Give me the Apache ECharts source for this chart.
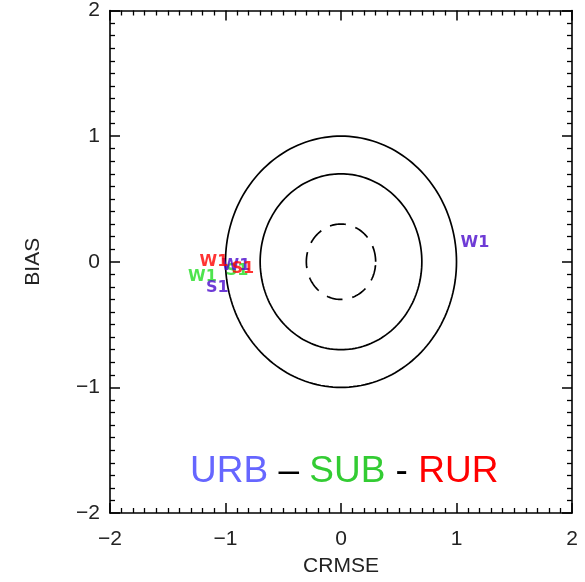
<!DOCTYPE html>
<html><head><meta charset="utf-8">
<script src="https://cdn.jsdelivr.net/npm/echarts@6/dist/echarts.min.js"></script>
<style>html,body{margin:0;padding:0;background:#fff}#c{width:585px;height:582px}</style>
</head><body><div id="c"></div>
<script>
// ---- data ----
const axisMin = -2, axisMax = 2, axisInterval = 1;
const radii = [1.0, 0.7, 0.3];
const urbNames = ['W1', 'W1', 'S1'];
const urbX = [1.16, -0.91, -1.07];
const urbY = [0.15, -0.03, -0.21];
const subNames = ['W1', 'S1'];
const subX = [-1.20, -0.90];
const subY = [-0.12, -0.07];
const rurNames = ['W1', 'S1'];
const rurX = [-1.10, -0.85];
const rurY = [0.00, -0.06];
const legendParts = ['URB', ' – ', 'SUB', ' - ', 'RUR'];

// ---- build ----
const chart = echarts.init(document.getElementById('c'), null, {renderer: 'canvas'});
const fmt = v => (v < 0 ? '\u2212' + Math.abs(v) : String(v));
const labelFont = {fontFamily: 'Liberation Sans', fontSize: 21, color: '#222'};

function baseAxis(extra) {
  return Object.assign({
    type: 'value', min: axisMin, max: axisMax, interval: axisInterval,
    axisLine: {show: true, onZero: false, lineStyle: {color: '#000', width: 1.6}},
    axisTick: {show: true, inside: true, length: 10, lineStyle: {color: '#000', width: 1.5}},
    minorTick: {show: true, splitNumber: 10, length: 5, lineStyle: {color: '#000', width: 1.3}},
    splitLine: {show: false}, minorSplitLine: {show: false}
  }, extra);
}

function toPts(xs, ys, names) {
  return xs.map((x, i) => ({value: [x, ys[i]], name: names[i]}));
}
function textSeries(name, color, xs, ys, names) {
  return {
    type: 'scatter', name: name, symbolSize: 1, xAxisIndex: 0, yAxisIndex: 0,
    itemStyle: {color: 'rgba(0,0,0,0)'},
    data: toPts(xs, ys, names),
    label: {show: true, position: 'inside', formatter: p => p.name, color: color,
            fontFamily: 'DejaVu Sans', fontWeight: 'bold', fontSize: 16},
    silent: true, z: 5
  };
}

const option = {
  animation: false,
  backgroundColor: '#fff',
  grid: {left: 110, right: 13, top: 8, bottom: 65, containLabel: false},
  xAxis: [
    baseAxis({position: 'bottom', name: 'CRMSE', nameLocation: 'middle', nameGap: 43,
      nameTextStyle: {fontFamily: 'Liberation Sans', fontSize: 21, color: '#222'},
      axisLabel: Object.assign({margin: 16, formatter: fmt}, labelFont)}),
    baseAxis({position: 'top', axisLabel: {show: false}})
  ],
  yAxis: [
    baseAxis({position: 'left', name: 'BIAS', nameLocation: 'middle', nameGap: 66, nameRotate: 90,
      nameTextStyle: {fontFamily: 'Liberation Sans', fontSize: 21, color: '#222'},
      axisLabel: Object.assign({margin: 10, formatter: fmt}, labelFont)}),
    baseAxis({position: 'right', axisLabel: {show: false}})
  ],
  series: [
    {
      type: 'custom', xAxisIndex: 0, yAxisIndex: 0, silent: true,
      data: radii.map((r, i) => [r, i]),
      renderItem: function (params, api) {
        const r = api.value(0);
        const idx = api.value(1);
        const pts = [];
        for (let k = 0; k <= 180; k++) {
          const t = k / 180 * Math.PI * 2;
          pts.push(api.coord([r * Math.cos(t), r * Math.sin(t)]));
        }
        return {
          type: 'polyline', shape: {points: pts},
          style: {fill: null, stroke: '#000', lineWidth: 1.7,
                  lineDash: idx === 2 ? [16, 10] : null}
        };
      }
    },
    textSeries('SUB', '#22dd22', subX, subY, subNames),
    textSeries('URB', '#4a0acc', urbX, urbY, urbNames),
    textSeries('RUR', '#ff0000', rurX, rurY, rurNames)
  ],
  graphic: [{
    type: 'text', left: 190, top: 453, z: 10,
    style: {
      text: '{a|' + legendParts[0] + '}{b|' + legendParts[1] + '}{c|' + legendParts[2] + '}{b|' + legendParts[3] + '}{d|' + legendParts[4] + '}',
      rich: {
        a: {fontFamily: 'Liberation Sans', fontSize: 37, fill: '#6666ff'},
        b: {fontFamily: 'Liberation Sans', fontSize: 37, fill: '#000'},
        c: {fontFamily: 'Liberation Sans', fontSize: 37, fill: '#33cc33'},
        d: {fontFamily: 'Liberation Sans', fontSize: 37, fill: '#ff0000'}
      }
    }
  }]
};
chart.setOption(option);
</script>
</body></html>
